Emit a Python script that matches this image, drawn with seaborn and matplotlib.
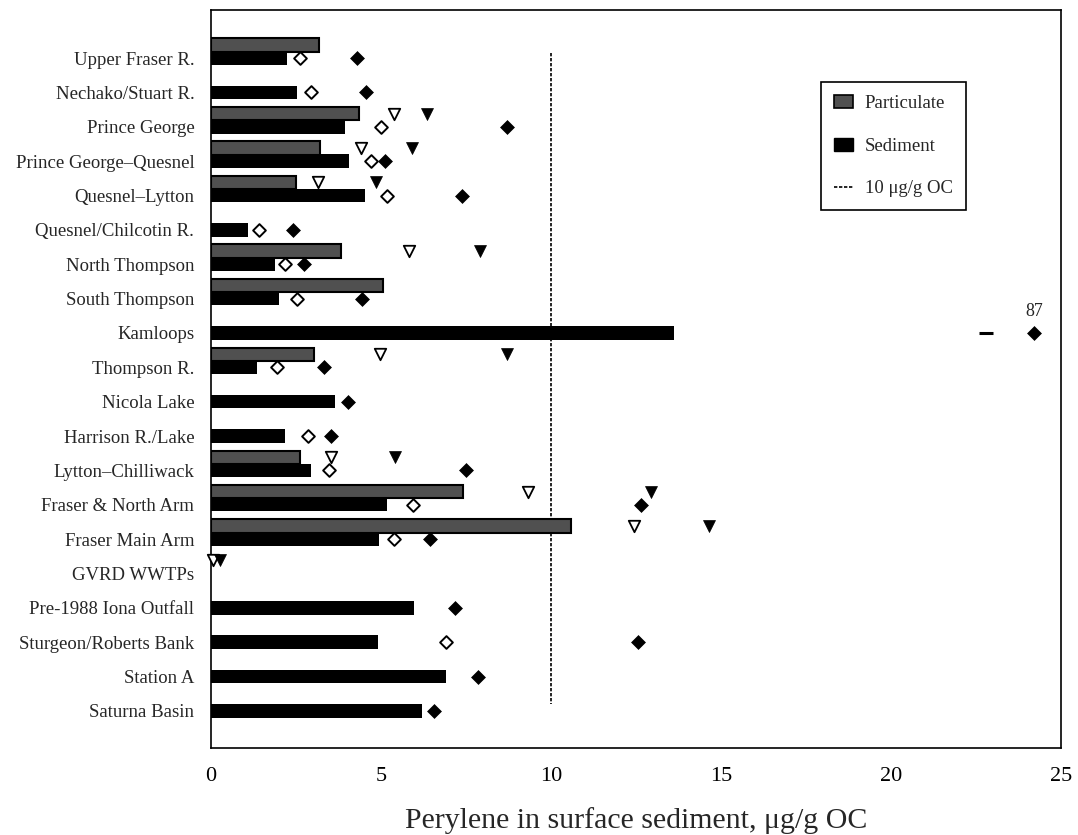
import numpy as np
import pandas as pd
import matplotlib
matplotlib.use("Agg")
import matplotlib.pyplot as plt
from matplotlib.patches import Patch
from matplotlib.lines import Line2D
import seaborn as sns

# ---------------- data ----------------
categories = [
    "Upper Fraser R.", "Nechako/Stuart R.", "Prince George", "Prince George\u2013Quesnel",
    "Quesnel\u2013Lytton", "Quesnel/Chilcotin R.", "North Thompson", "South Thompson",
    "Kamloops", "Thompson R.", "Nicola Lake", "Harrison R./Lake", "Lytton\u2013Chilliwack",
    "Fraser & North Arm", "Fraser Main Arm", "GVRD WWTPs", "Pre-1988 Iona Outfall",
    "Sturgeon/Roberts Bank", "Station A", "Saturna Basin",
]
nan = np.nan
particulate = [3.17, nan, 4.34, 3.22, 2.51, nan, 3.81, 5.05, nan, 3.04,
               nan, nan, 2.63, 7.41, 10.60, nan, nan, nan, nan, nan]
sediment = [2.23, 2.52, 3.95, 4.07, 4.54, 1.10, 1.88, 2.00, 13.63, 1.34,
            3.65, 2.18, 2.94, 5.19, 4.94, nan, 5.97, 4.91, 6.91, 6.20]
sed_open_diamond = [2.63, 2.94, 5.01, 4.72, 5.17, 1.42, 2.19, 2.54, nan, 1.94,
                    nan, 2.84, 3.46, 5.95, 5.38, nan, nan, 6.92, nan, nan]
sed_filled_diamond = [4.29, 4.55, 8.72, 5.12, 7.39, 2.42, 2.74, 4.43, 87.0, 3.31,
                      4.03, 3.54, 7.49, 12.64, 6.45, nan, 7.18, 12.57, 7.85, 6.57]
part_open_triangle = [nan, nan, 5.38, 4.42, 3.16, nan, 5.83, nan, nan, 4.96,
                      nan, nan, 3.53, 9.33, 12.43, 0.05, nan, nan, nan, nan]
part_filled_triangle = [nan, nan, 6.34, 5.90, 4.84, nan, 7.90, nan, nan, 8.72,
                        nan, nan, 5.42, 12.94, 14.64, 0.25, nan, nan, nan, nan]
x_ticks = [0, 5, 10, 15, 20, 25]
reference_level = 10  # 10 ug/g OC

# ---------------- layout constants ----------------
X_MAX = 25
BREAK_X = 22.8          # axis-break dash position
OFFSCALE_X = 24.2       # where off-scale values are displayed
PART_OFFSET = 0.38      # particulate row offset above sediment row
BAR_H = 0.39
GREY = "#505050"

sns.set_style("white")
plt.rcParams["font.family"] = ["Liberation Serif", "DejaVu Serif"]

n = len(categories)
rows = np.arange(n)

def disp(v):
    v = np.asarray(v, dtype=float)
    return np.where(v > X_MAX, OFFSCALE_X, v)

df_part = pd.DataFrame({"value": particulate, "pos": rows - PART_OFFSET}).dropna()
df_sed = pd.DataFrame({"value": sediment, "pos": rows.astype(float)}).dropna()

fig = plt.figure(figsize=(10.78, 8.35), dpi=100)
ax = fig.add_axes([211 / 1078, 1 - 748 / 835, 850 / 1078, 738 / 835])

sns.barplot(data=df_part, x="value", y="pos", orient="y", native_scale=True,
            width=BAR_H, color=GREY, edgecolor="black", linewidth=1.5,
            saturation=1, ax=ax, zorder=2)
sns.barplot(data=df_sed, x="value", y="pos", orient="y", native_scale=True,
            width=BAR_H, color="black", edgecolor="black", linewidth=0,
            saturation=1, ax=ax, zorder=2)

# reference line
ax.vlines(reference_level, -0.15, 18.8, colors="black", linestyles=(0, (2, 1)),
          linewidth=1.2, zorder=1)

def scatter(vals, offset, marker, face, size, lw):
    d = pd.DataFrame({"x": disp(vals), "y": rows - offset}).dropna()
    sns.scatterplot(data=d, x="x", y="y", marker=marker, s=size, color=face,
                    edgecolor="black", linewidth=lw, ax=ax, zorder=4,
                    clip_on=False, legend=False)

scatter(sed_open_diamond, 0, "D", "white", 42, 1.4)
scatter(sed_filled_diamond, 0, "D", "black", 50, 0.5)
scatter(part_open_triangle, PART_OFFSET, "v", "white", 68, 1.3)
scatter(part_filled_triangle, PART_OFFSET, "v", "black", 74, 0.5)

# axis-break mark and off-scale label
for i, v in enumerate(sed_filled_diamond):
    if np.isfinite(v) and v > X_MAX:
        ax.plot([BREAK_X], [i], marker="_", markersize=10, mew=2.2, color="black", zorder=4)
        ax.annotate(f"{v:.0f}", (OFFSCALE_X, i), xytext=(0, 9), textcoords="offset points",
                    ha="center", va="bottom", fontsize=13)

ax.set_xlim(0, X_MAX)
ax.set_ylim(20.08, -1.40)
ax.set_xticks(x_ticks)
ax.set_xticklabels([str(t) for t in x_ticks], fontsize=16)
ax.set_yticks(rows)
ax.set_yticklabels(categories, fontsize=13.5)
ax.tick_params(axis="x", direction="in", length=9, width=1.1, pad=14, colors="black")
ax.tick_params(axis="y", length=0, pad=12)
ax.set_xlabel("Perylene in surface sediment, \u03bcg/g OC", fontsize=21.5, labelpad=15)
ax.set_ylabel("")
for s in ax.spines.values():
    s.set_visible(True)
    s.set_color("black")
    s.set_linewidth(1.2)

handles = [
    Patch(facecolor=GREY, edgecolor="black", linewidth=1.2, label="Particulate"),
    Patch(facecolor="black", edgecolor="black", label="Sediment"),
    Line2D([0], [0], color="black", linestyle=(0, (2, 1)), linewidth=1.2,
           label="10 \u03bcg/g OC"),
]
leg = ax.legend(handles=handles, loc="upper right",
                bbox_to_anchor=((966 - 211) / 850, 1 - (82 - 10) / 738),
                borderaxespad=0, fontsize=13.5, frameon=True, fancybox=False,
                edgecolor="black", framealpha=1, handlelength=1.0, handleheight=0.7,
                handletextpad=0.65, labelspacing=1.35, borderpad=0.7)
leg.get_frame().set_linewidth(1.2)

fig.savefig("out.png", dpi=100)
